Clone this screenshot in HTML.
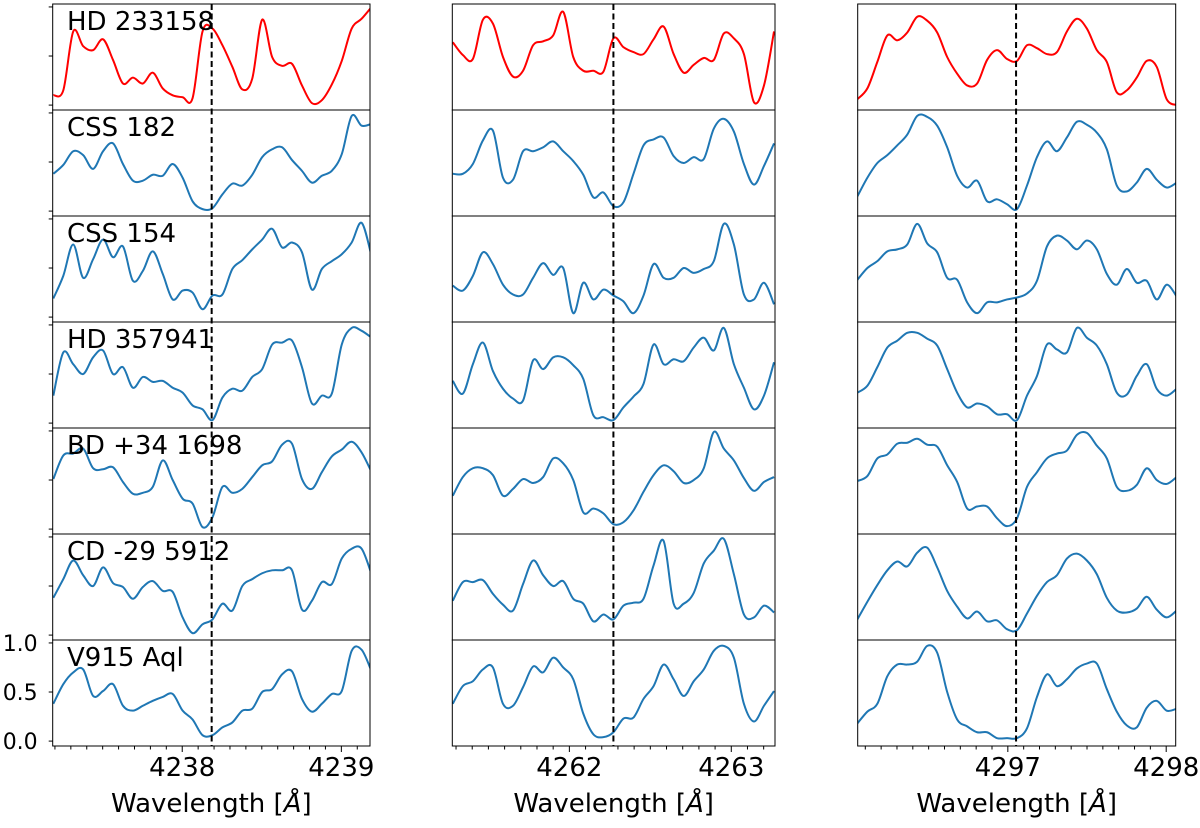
<!DOCTYPE html>
<html><head><meta charset="utf-8">
<style>
html,body{margin:0;padding:0;background:#fff;}
svg text{font-family:"DejaVu Sans","Liberation Sans",sans-serif;fill:#000;}
</style></head>
<body>
<svg id="chart" width="1200" height="823" viewBox="0 0 1200 823" xmlns="http://www.w3.org/2000/svg"></svg>
<script>
// ---- data ----
const starNames = ["HD 233158","CSS 182","CSS 154","HD 357941","BD +34 1698","CD -29 5912","V915 Aql"];
const lineCenters = [4238.185, 4262.272, 4297.052];
const waveStart = [4237.19, 4261.28, 4296.05];
const waveStep = [0.0625, 0.062, 0.063];
const xTickMajor1 = [4238, 4239];
const xTickMajor2 = [4262, 4263];
const xTickMajor3 = [4297, 4298];
const yTicks = [0, 0.5, 1.0];
const yTickLabels = ["0.0","0.5","1.0"];

const c1_hd233158 = [0.1,0.15,0.75,0.6,0.56,0.67,0.46,0.22,0.28,0.22,0.33,0.17,0.1,0.08,0.07,0.75,0.78,0.61,0.39,0.16,0.27,0.87,0.49,0.40,0.42,0.2,0.02,0.05,0.21,0.45,0.78,0.88,1.0];
const c1_css182 = [0.38,0.47,0.61,0.57,0.43,0.61,0.69,0.48,0.31,0.31,0.37,0.36,0.48,0.34,0.1,0.02,0.03,0.17,0.28,0.26,0.37,0.55,0.63,0.65,0.52,0.41,0.29,0.36,0.41,0.58,0.97,0.87,0.89];
const c1_css154 = [0.19,0.42,0.74,0.4,0.59,0.79,0.61,0.72,0.37,0.47,0.67,0.44,0.18,0.27,0.25,0.08,0.22,0.23,0.49,0.58,0.69,0.79,0.9,0.71,0.76,0.66,0.28,0.49,0.57,0.64,0.76,0.96,0.62];
const c1_hd357941 = [0.28,0.72,0.6,0.5,0.67,0.74,0.5,0.57,0.36,0.47,0.42,0.43,0.36,0.31,0.18,0.14,0.03,0.26,0.35,0.33,0.47,0.55,0.8,0.82,0.84,0.57,0.2,0.28,0.3,0.8,0.97,0.94,0.87];
const c1_bd34 = [0.51,0.75,0.77,0.82,0.62,0.61,0.63,0.48,0.36,0.37,0.43,0.7,0.5,0.31,0.26,0.02,0.12,0.43,0.37,0.41,0.53,0.65,0.69,0.86,0.87,0.51,0.41,0.58,0.74,0.81,0.89,0.78,0.58];
const c1_cd29 = [0.38,0.57,0.76,0.61,0.5,0.69,0.53,0.49,0.37,0.49,0.55,0.45,0.44,0.18,0.02,0.11,0.16,0.32,0.25,0.5,0.57,0.63,0.66,0.66,0.66,0.26,0.35,0.54,0.52,0.78,0.88,0.88,0.62];
const c1_v915 = [0.38,0.58,0.7,0.73,0.46,0.51,0.58,0.36,0.31,0.36,0.41,0.45,0.48,0.31,0.22,0.06,0.06,0.14,0.19,0.31,0.33,0.5,0.53,0.68,0.71,0.43,0.3,0.38,0.48,0.51,0.92,0.93,0.71];

const c2_hd233158 = [0.64,0.51,0.47,0.87,0.83,0.49,0.29,0.35,0.61,0.65,0.71,0.95,0.49,0.35,0.35,0.34,0.68,0.59,0.54,0.52,0.67,0.8,0.52,0.33,0.41,0.48,0.46,0.73,0.68,0.52,0.03,0.2,0.75];
const c2_css182 = [0.38,0.38,0.48,0.72,0.82,0.34,0.32,0.61,0.61,0.65,0.71,0.61,0.51,0.37,0.14,0.19,0.05,0.09,0.38,0.67,0.73,0.75,0.56,0.49,0.55,0.53,0.84,0.94,0.81,0.48,0.27,0.46,0.69];
const c2_css154 = [0.32,0.27,0.42,0.66,0.54,0.33,0.23,0.23,0.4,0.55,0.43,0.5,0.04,0.35,0.18,0.28,0.22,0.16,0.04,0.22,0.54,0.4,0.4,0.5,0.45,0.49,0.57,0.95,0.74,0.23,0.18,0.35,0.13];
const c2_hd357941 = [0.43,0.3,0.6,0.82,0.53,0.35,0.25,0.23,0.64,0.55,0.67,0.67,0.59,0.45,0.08,0.06,0.03,0.16,0.27,0.4,0.8,0.6,0.65,0.63,0.77,0.87,0.74,0.97,0.6,0.36,0.14,0.28,0.62];
const c2_bd34 = [0.34,0.53,0.62,0.62,0.55,0.34,0.41,0.51,0.47,0.53,0.72,0.67,0.5,0.17,0.21,0.16,0.05,0.07,0.19,0.38,0.55,0.65,0.59,0.47,0.5,0.62,0.99,0.82,0.7,0.52,0.39,0.48,0.53];
const c2_cd29 = [0.35,0.54,0.54,0.56,0.42,0.31,0.25,0.52,0.76,0.61,0.5,0.55,0.37,0.32,0.14,0.21,0.16,0.3,0.33,0.37,0.71,0.96,0.32,0.32,0.43,0.73,0.86,0.98,0.62,0.21,0.18,0.3,0.23];
const c2_v915 = [0.38,0.56,0.61,0.73,0.75,0.38,0.36,0.55,0.76,0.7,0.85,0.75,0.63,0.28,0.07,0.04,0.09,0.23,0.24,0.43,0.56,0.78,0.63,0.46,0.61,0.73,0.92,0.97,0.85,0.38,0.2,0.36,0.51];

const c3_hd233158 = [0.06,0.17,0.44,0.71,0.66,0.74,0.9,0.86,0.74,0.49,0.32,0.2,0.22,0.46,0.56,0.47,0.45,0.61,0.58,0.52,0.54,0.75,0.88,0.78,0.56,0.44,0.13,0.15,0.28,0.45,0.39,0.06,0.0];
const c3_css182 = [0.15,0.34,0.49,0.57,0.67,0.78,0.97,0.96,0.87,0.65,0.36,0.24,0.31,0.1,0.12,0.07,0.02,0.26,0.55,0.71,0.61,0.75,0.91,0.88,0.8,0.63,0.26,0.2,0.29,0.43,0.32,0.24,0.29];
const c3_css154 = [0.38,0.5,0.57,0.67,0.69,0.74,0.95,0.75,0.66,0.4,0.38,0.15,0.04,0.15,0.15,0.18,0.2,0.24,0.37,0.72,0.83,0.78,0.69,0.78,0.69,0.44,0.33,0.49,0.35,0.37,0.18,0.33,0.21];
const c3_hd357941 = [0.31,0.38,0.57,0.77,0.84,0.92,0.92,0.86,0.79,0.55,0.31,0.16,0.2,0.17,0.09,0.09,0.03,0.28,0.48,0.8,0.75,0.72,0.97,0.87,0.79,0.6,0.31,0.29,0.48,0.6,0.35,0.28,0.35];
const c3_bd34 = [0.49,0.54,0.72,0.76,0.87,0.88,0.92,0.86,0.84,0.65,0.48,0.21,0.23,0.23,0.11,0.03,0.11,0.43,0.58,0.72,0.77,0.8,0.96,0.98,0.85,0.72,0.43,0.39,0.45,0.62,0.5,0.46,0.53];
const c3_cd29 = [0.16,0.34,0.51,0.66,0.75,0.7,0.84,0.89,0.69,0.45,0.29,0.17,0.24,0.14,0.15,0.06,0.05,0.22,0.4,0.54,0.61,0.78,0.83,0.76,0.62,0.38,0.25,0.23,0.27,0.39,0.26,0.18,0.25];
const c3_v915 = [0.18,0.3,0.38,0.66,0.78,0.78,0.81,0.97,0.9,0.5,0.22,0.15,0.09,0.09,0.03,0.03,0.03,0.13,0.45,0.68,0.56,0.63,0.74,0.79,0.79,0.53,0.3,0.16,0.14,0.34,0.41,0.31,0.33];

const fluxCols = [
  [c1_hd233158,c1_css182,c1_css154,c1_hd357941,c1_bd34,c1_cd29,c1_v915],
  [c2_hd233158,c2_css182,c2_css154,c2_hd357941,c2_bd34,c2_cd29,c2_v915],
  [c3_hd233158,c3_css182,c3_css154,c3_hd357941,c3_bd34,c3_cd29,c3_v915]
];
const xMajorCols = [xTickMajor1, xTickMajor2, xTickMajor3];

// ---- layout ----
const NS = "http://www.w3.org/2000/svg";
const svg = document.getElementById("chart");
const colX = [[52.7,370],[452.3,775],[857.7,1175.7]];
const colDomain = [[4237.186,4239.18],[4261.277,4263.27],[4296.052,4298.06]];
const rowTop = 4, rowH = 106, nRows = 7;
const yLo = -0.05, yHi = 1.03;

function mk(tag, attrs, parent){
  const e = document.createElementNS(NS, tag);
  for (const k in attrs) e.setAttribute(k, attrs[k]);
  (parent||svg).appendChild(e);
  return e;
}
function xScale(c, w){ const [a,b]=colX[c],[d0,d1]=colDomain[c]; return a + (w-d0)/(d1-d0)*(b-a); }
function yScale(r, v){ return rowTop + r*rowH + (yHi - v)/(yHi-yLo)*rowH; }
function smoothPath(pts){
  let d = "M"+pts[0][0].toFixed(2)+","+pts[0][1].toFixed(2);
  for (let i=0;i<pts.length-1;i++){
    const p0=pts[Math.max(0,i-1)], p1=pts[i], p2=pts[i+1], p3=pts[Math.min(pts.length-1,i+2)];
    const c1x=p1[0]+(p2[0]-p0[0])/6, c1y=p1[1]+(p2[1]-p0[1])/6;
    const c2x=p2[0]-(p3[0]-p1[0])/6, c2y=p2[1]-(p3[1]-p1[1])/6;
    d += " C"+c1x.toFixed(2)+","+c1y.toFixed(2)+" "+c2x.toFixed(2)+","+c2y.toFixed(2)+" "+p2[0].toFixed(2)+","+p2[1].toFixed(2);
  }
  return d;
}

const defs = mk("defs", {});
for (let c=0;c<3;c++){
  const cp = mk("clipPath", {id:"clip"+c}, defs);
  mk("rect", {x:colX[c][0], y:rowTop, width:colX[c][1]-colX[c][0], height:rowH*nRows}, cp);
}

for (let c=0;c<3;c++){
  const g = mk("g", {});
  
  
  const [x0,x1] = colX[c];
  for (let r=0;r<nRows;r++){
    const vals = fluxCols[c][r];
    const pts = vals.map((v,i)=>[xScale(c, waveStart[c]+waveStep[c]*i), yScale(r, v)]);
    const p = mk("path", {d:smoothPath(pts), fill:"none", stroke: r===0 ? "#ff0000" : "#1f77b4", "stroke-width":2, "stroke-linejoin":"round", "clip-path":"url(#clip"+c+")"}, g);
    
    
    const fr = mk("rect", {x:x0, y:rowTop+r*rowH, width:x1-x0, height:rowH, fill:"none", stroke:"#000", "stroke-width":1}, g);
    
    
    if (c===0){
      const t = mk("text", {x:67, y:rowTop+r*rowH+26, "font-size":26}, g);
      t.textContent = starNames[r];
      
      
      yTicks.forEach((tv,k)=>{
        const yy = yScale(r, tv);
        const tk = mk("line", {x1:x0-4, x2:x0, y1:yy, y2:yy, stroke:"#000", "stroke-width":1}, g);
        
        
        if (r===nRows-1){
          const tl = mk("text", {x:x0-15, y:yy+8, "font-size":22, "text-anchor":"end"}, g);
          tl.textContent = yTickLabels[k];
          
          
        }
      });
    }
  }
  const lx = xScale(c, lineCenters[c]);
  const dl = mk("line", {x1:lx, x2:lx, y1:rowTop, y2:rowTop+rowH*nRows, stroke:"#000", "stroke-width":2, "stroke-dasharray":"6,3.5"}, g);
  
  
  const yb = rowTop+rowH*nRows;
  const [d0,d1] = colDomain[c];
  for (let m=Math.ceil(d0*10); m<=Math.floor(d1*10); m++){
    const w = m/10;
    const major = xMajorCols[c].some(v=>Math.abs(v-w)<1e-6);
    const xx = xScale(c, w);
    const tk = mk("line", {x1:xx, x2:xx, y1:yb, y2:yb+(major?6:3.5), stroke:"#000", "stroke-width":1}, g);
    
    
  }
  xMajorCols[c].forEach(v=>{
    const tl = mk("text", {x:xScale(c, v), y:yb+30, "font-size":26, "text-anchor":"middle"}, g);
    tl.textContent = String(v);
    
    
  });
  const xt = mk("text", {x:(x0+x1)/2, y:812, "font-size":26, "text-anchor":"middle"}, g);
  xt.textContent = "Wavelength [";
  const ts = mk("tspan", {"font-style":"italic"}, xt); ts.textContent = "Å";
  const ts2 = mk("tspan", {}, xt); ts2.textContent = "]";
  
  
}
</script>
</body></html>
